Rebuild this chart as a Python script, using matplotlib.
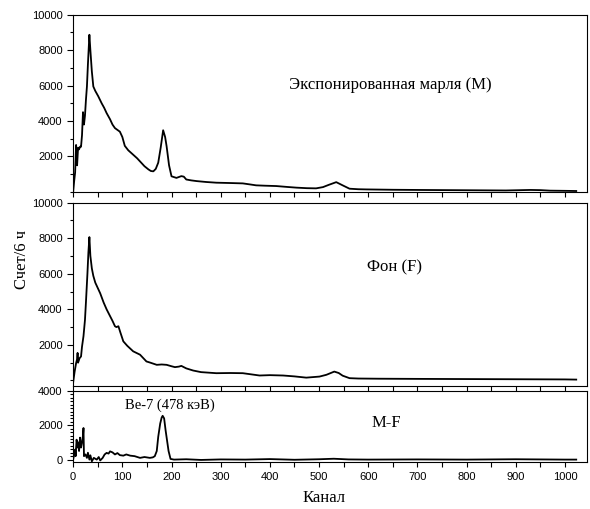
import matplotlib.pyplot as plt
from matplotlib.ticker import MultipleLocator

# Экспонированная марля (M)
ch_m = [0, 2, 4, 6, 8, 9, 10, 12, 14, 16, 18, 20, 22, 24, 26, 28, 30, 33, 35, 38,
        41, 45, 51, 58, 63, 68, 75, 80, 85, 90, 95, 100, 105, 112, 122, 130, 136,
        145, 153, 158, 163, 168, 173, 178, 183, 187, 190, 195, 200, 210, 220, 225,
        230, 240, 251, 270, 291, 320, 345, 360, 372, 390, 413, 435, 454, 475, 494,
        508, 520, 535, 548, 562, 580, 596, 650, 700, 760, 820, 880, 930, 950, 970,
        1000, 1023]
cnt_m = [0, 600, 1100, 2650, 1500, 2000, 2500, 2400, 2550, 2550, 3200, 4500, 3800,
         4300, 5200, 5950, 7200, 8870, 8000, 6800, 5950, 5700, 5400, 5000, 4750,
         4450, 4100, 3800, 3600, 3500, 3400, 3100, 2600, 2350, 2100, 1900, 1720,
         1450, 1270, 1180, 1160, 1300, 1650, 2500, 3480, 3100, 2580, 1500, 880,
         790, 890, 860, 700, 650, 610, 560, 520, 500, 480, 420, 370, 350, 330,
         280, 240, 210, 200, 270, 400, 550, 370, 180, 150, 140, 120, 110, 100, 90,
         80, 110, 100, 70, 60, 50]

# Фон (F)
ch_f = [0, 3, 6, 8, 9, 10, 13, 16, 18, 21, 24, 26, 29, 31, 33, 35, 38, 41, 45, 48,
        55, 62, 68, 75, 80, 85, 88, 92, 96, 102, 110, 122, 136, 149, 156, 170, 180,
        190, 200, 207, 215, 220, 230, 244, 260, 291, 320, 345, 379, 400, 427, 450,
        474, 501, 515, 531, 540, 548, 562, 580, 620, 700, 800, 900, 1000, 1023]
cnt_f = [-100, 500, 980, 1200, 1550, 1000, 1250, 1350, 1900, 2490, 3400, 4400,
         6000, 7200, 8060, 7000, 6300, 5880, 5500, 5320, 4900, 4380, 4000, 3620,
         3350, 3050, 3000, 3050, 2700, 2200, 1950, 1640, 1450, 1070, 1010, 880,
         900, 880, 800, 750, 780, 820, 680, 560, 470, 410, 420, 410, 280, 300, 280,
         230, 160, 220, 320, 500, 420, 270, 130, 110, 100, 90, 80, 70, 60, 50]

# M-F
ch_d = [0, 2, 4, 5, 7, 9, 11, 12, 14, 16, 18, 20, 21, 22, 25, 28, 30, 33, 35, 38,
        42, 48, 52, 55, 60, 64, 68, 72, 75, 80, 85, 90, 95, 102, 108, 116, 125,
        136, 145, 156, 162, 166, 170, 173, 177, 180, 182, 185, 188, 190, 194, 198,
        205, 230, 260, 300, 350, 400, 450, 500, 530, 560, 600, 700, 800, 900, 1000,
        1023]
cnt_d = [0, 300, 580, 200, 1160, 700, 1000, 500, 1280, 700, 1000, 1400, 1840, 200,
         300, 100, 400, 0, 250, -100, 100, 0, 150, -50, 100, 300, 390, 350, 480, 420,
         300, 380, 260, 230, 300, 230, 200, 100, 150, 100, 130, 200, 500, 1330, 2100,
         2450, 2550, 2400, 1700, 1300, 500, 40, 0, 20, -20, 10, 0, 30, -10, 20, 50,
         10, 0, 10, 0, 20, 0, 0]

plt.rcParams['font.family'] = ['Liberation Sans', 'DejaVu Sans']
serif = ['Liberation Serif', 'DejaVu Serif']

fig = plt.figure(figsize=(5.9, 5.09), dpi=100)
ax1 = fig.add_axes([0.124, 0.623, 0.871, 0.348])
ax2 = fig.add_axes([0.124, 0.242, 0.871, 0.360])
ax3 = fig.add_axes([0.124, 0.092, 0.871, 0.140])

for ax in (ax1, ax2, ax3):
    ax.set_xlim(0, 1045)
    ax.xaxis.set_major_locator(MultipleLocator(100))
    ax.xaxis.set_minor_locator(MultipleLocator(50))
    ax.tick_params(axis='both', which='both', direction='out', labelsize=8,
                   width=0.8)
    ax.tick_params(axis='x', which='minor', length=3.5)
    ax.tick_params(axis='x', which='major', length=3.5)
    ax.tick_params(axis='y', which='major', length=4)
    ax.tick_params(axis='y', which='minor', length=2)

ax1.plot(ch_m, cnt_m, color='black', lw=1.3)
ax1.set_ylim(0, 10000)
ax1.set_yticks([2000, 4000, 6000, 8000, 10000])
ax1.yaxis.set_minor_locator(MultipleLocator(1000))
ax1.tick_params(axis='x', labelbottom=False)
ax1.text(645, 6060, 'Экспонированная марля (М)', family=serif, fontsize=12,
         ha='center', va='center')

ax2.plot(ch_f, cnt_f, color='black', lw=1.3)
ax2.set_ylim(-300, 10000)
ax2.set_yticks([2000, 4000, 6000, 8000, 10000])
ax2.yaxis.set_minor_locator(MultipleLocator(1000))
ax2.tick_params(axis='x', labelbottom=False)
ax2.text(653, 6380, 'Фон (F)', family=serif, fontsize=12,
         ha='center', va='center')

ax3.plot(ch_d, cnt_d, color='black', lw=1.3)
ax3.set_ylim(-150, 4000)
ax3.set_yticks([0, 2000, 4000])
ax3.yaxis.set_minor_locator(MultipleLocator(200))
ax3.text(197, 3190, 'Be-7 (478 кэВ)', family=serif, fontsize=10.5,
         ha='center', va='center')
ax3.text(637, 2150, 'M-F', family=serif, fontsize=12,
         ha='center', va='center')

fig.text(0.037, 0.49, 'Счет/6 ч', family=serif, fontsize=12, rotation=90,
         ha='center', va='center')
fig.text(0.549, 0.022, 'Канал', family=serif, fontsize=12,
         ha='center', va='center')

fig.savefig('out.png', dpi=100)
